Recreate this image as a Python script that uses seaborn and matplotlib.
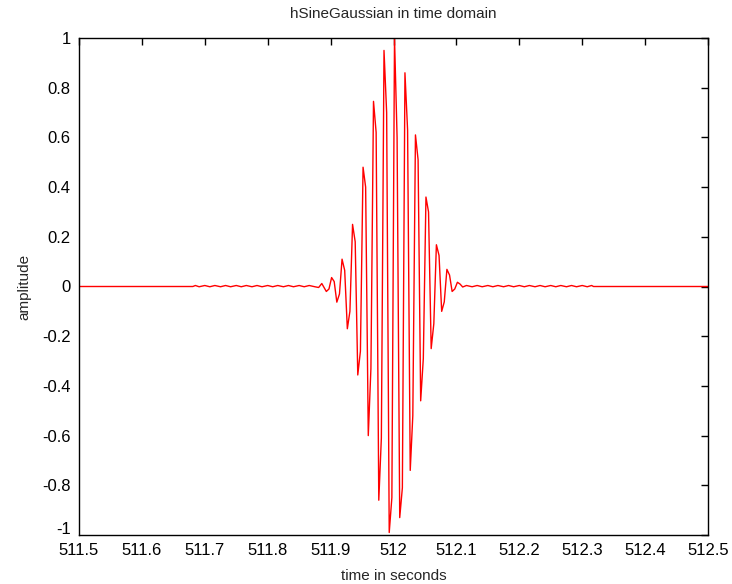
import numpy as np
import pandas as pd
import matplotlib
matplotlib.use("Agg")
import matplotlib.pyplot as plt
from matplotlib.transforms import ScaledTranslation
import seaborn as sns

# ---- data (samples of the waveform) ----
lead_t = [511.5, 511.681]
lead_a = [0.0, 0.0]

pre_ripple_t = [511.685, 511.691, 511.700, 511.708, 511.716, 511.725, 511.733, 511.741,
                511.750, 511.758, 511.766, 511.775, 511.783, 511.791, 511.800, 511.808,
                511.816, 511.825, 511.833, 511.841, 511.850, 511.858, 511.866, 511.875,
                511.881, 511.886]
pre_ripple_a = [0.004, -0.001, 0.004, -0.001, 0.004, -0.001, 0.004, -0.001,
                0.004, -0.001, 0.004, -0.001, 0.004, -0.001, 0.004, -0.001,
                0.004, -0.001, 0.004, -0.001, 0.004, -0.001, 0.004, -0.001,
                -0.004, 0.012]

burst_t = [511.8932, 511.8974, 511.9016, 511.9057, 511.9099, 511.9141, 511.9182, 511.9224,
           511.9266, 511.9307, 511.9349, 511.9391, 511.9432, 511.9474, 511.9516, 511.9557,
           511.9599, 511.9641, 511.9682, 511.9724, 511.9766, 511.9807, 511.9849, 511.9891,
           511.9932, 511.9974, 512.0016, 512.0057, 512.0099, 512.0141, 512.0182, 512.0224,
           512.0266, 512.0307, 512.0349, 512.0391, 512.0432, 512.0474, 512.0516, 512.0557,
           512.0599, 512.0641, 512.0682, 512.0724, 512.0766, 512.0807, 512.0849, 512.0891,
           512.0932, 512.0974, 512.1016, 512.1057]
burst_a = [-0.02, -0.01, 0.036, 0.02, -0.063, -0.03, 0.11, 0.065,
           -0.17, -0.10, 0.25, 0.18, -0.356, -0.26, 0.48, 0.40,
           -0.60, -0.33, 0.745, 0.62, -0.86, -0.61, 0.95, 0.70,
           -0.99, -0.85, 1.0, 0.60, -0.93, -0.81, 0.86, 0.63,
           -0.74, -0.52, 0.61, 0.51, -0.46, -0.29, 0.36, 0.30,
           -0.25, -0.15, 0.168, 0.125, -0.10, -0.062, 0.069, 0.046,
           -0.02, -0.01, 0.017, 0.01]

post_ripple_t = [512.110, 512.116, 512.125, 512.133, 512.141, 512.150, 512.158, 512.166,
                 512.175, 512.183, 512.191, 512.200, 512.208, 512.216, 512.225, 512.233,
                 512.241, 512.250, 512.258, 512.266, 512.275, 512.283, 512.291, 512.300,
                 512.308, 512.315]
post_ripple_a = [-0.002, 0.004, -0.001, 0.004, -0.001, 0.004, -0.001, 0.004,
                 -0.001, 0.004, -0.001, 0.004, -0.001, 0.004, -0.001, 0.004,
                 -0.001, 0.004, -0.001, 0.004, -0.001, 0.004, -0.001, 0.004,
                 -0.001, 0.004]

tail_t = [512.318, 512.5]
tail_a = [0.0, 0.0]

x_ticks = [511.5, 511.6, 511.7, 511.8, 511.9, 512.0, 512.1, 512.2, 512.3, 512.4, 512.5]
x_tick_labels = ["511.5", "511.6", "511.7", "511.8", "511.9", "512",
                 "512.1", "512.2", "512.3", "512.4", "512.5"]
y_ticks = [-1, -0.8, -0.6, -0.4, -0.2, 0, 0.2, 0.4, 0.6, 0.8, 1]
y_tick_labels = ["-1", "-0.8", "-0.6", "-0.4", "-0.2", "0", "0.2", "0.4", "0.6", "0.8", "1"]

df = pd.DataFrame({
    "t": lead_t + pre_ripple_t + burst_t + post_ripple_t + tail_t,
    "a": lead_a + pre_ripple_a + burst_a + post_ripple_a + tail_a,
})

sns.set_style("white")
plt.rcParams["font.family"] = ["Liberation Sans", "DejaVu Sans"]

fig = plt.figure(figsize=(7.32, 5.84), dpi=100)
ax = fig.add_axes([79 / 732, 1 - 535 / 584, (708 - 79) / 732, (535 - 38) / 584])

sns.lineplot(data=df, x="t", y="a", sort=False, estimator=None,
             color="#ff0000", linewidth=1.0, ax=ax)

ax.set_xlim(511.5, 512.5)
ax.set_ylim(-1, 1)
ax.set_xticks(x_ticks)
ax.set_xticklabels(x_tick_labels)
ax.set_yticks(y_ticks)
ax.set_yticklabels(y_tick_labels)
ax.tick_params(direction="in", length=5, width=1, top=True, right=True,
               labelsize=12, colors="black")
ax.tick_params(axis="x", pad=5.5)
ax.tick_params(axis="y", pad=6)
for s in ax.spines.values():
    s.set_visible(True)
    s.set_color("black")
    s.set_linewidth(1.0)

# MATLAB-style: the lowest y label sits slightly raised
lbl = ax.get_yticklabels()[0]
lbl.set_transform(lbl.get_transform() + ScaledTranslation(0, 7 / 100, fig.dpi_scale_trans))

ax.set_title("hSineGaussian in time domain", fontsize=11, pad=14.5)
ax.set_xlabel("time in seconds", fontsize=11, labelpad=8.5)
ax.set_ylabel("amplitude", fontsize=11, labelpad=7.5)

fig.savefig("out.png", dpi=100, facecolor="white")
